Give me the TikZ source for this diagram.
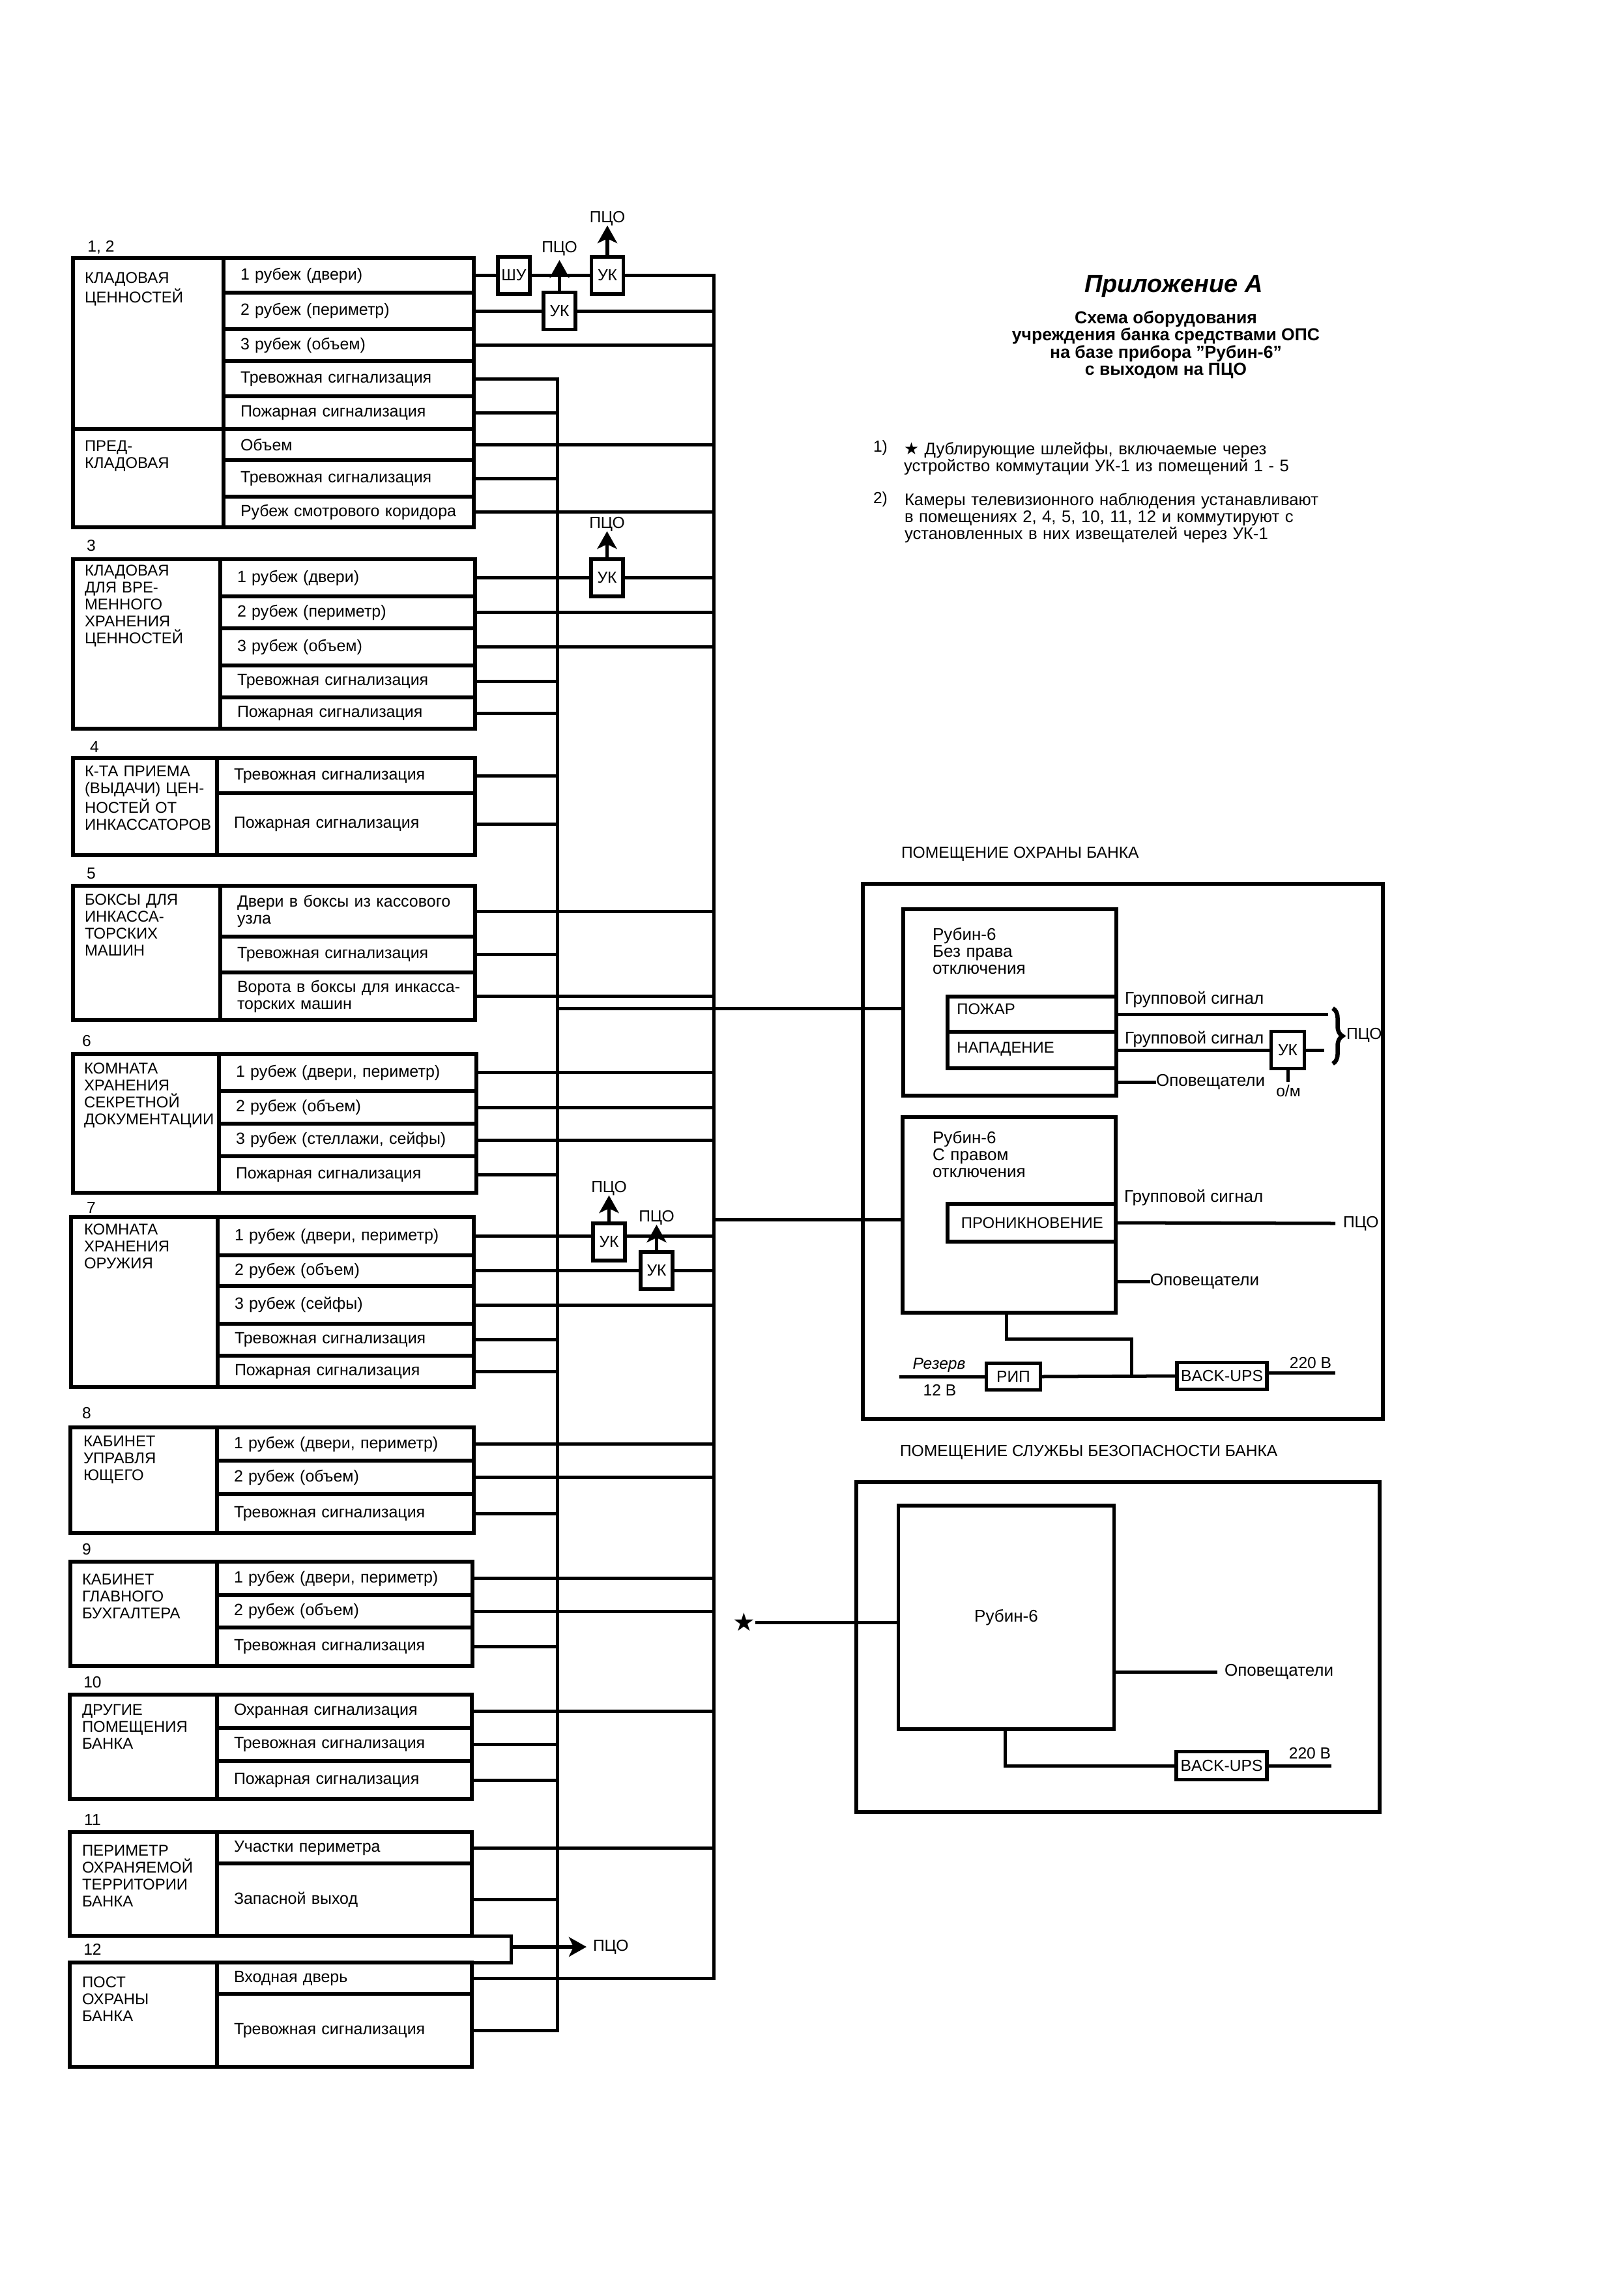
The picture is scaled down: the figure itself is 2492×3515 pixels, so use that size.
\documentclass[tikz,border=0pt]{standalone}
\usepackage{fontspec}
\setmainfont{Liberation Sans}
\newfontfamily\symfont{DejaVu Sans}
\usetikzlibrary{arrows.meta,decorations.pathreplacing}

\newcommand{\plainfont}{\fontsize{7}{7.4}\selectfont}
\newcommand{\rowfont}{\fontsize{7.1}{7.4}\selectfont}
\newcommand{\namefont}{\fontsize{6.8}{7.4}\selectfont}
\newcommand{\sidefont}{\fontsize{7.4}{7.4}\selectfont}

\tikzset{
    every node/.style={font=\plainfont},
    boxline/.style={draw,line width=.055cm,inner sep=0pt,outer sep=0pt},
    rowbox/.style n args={4}{boxline,inner xsep=.26cm,align=left,font=\rowfont,
        minimum width={(#2-#1)*0.01cm},minimum height={(#4-#3)*0.01cm},
        text width={(#2-#1-52)*0.01cm}},
    ukbox/.style={boxline,minimum width=.49cm,minimum height=.57cm},
    lbl/.style={inner sep=0pt,outer sep=0pt},
    lblw/.style={lbl,anchor=west},
    sidelbl/.style={lblw,font=\sidefont},
    roomtext/.style={lbl,anchor=north west,align=left,text width=2.3cm,font=\namefont},
    wire/.style={line width=.05cm},
    pcoarrow/.style={line width=.055cm,-{Stealth[length=.27cm,width=.3cm,inset=.07cm]}}
}

\begin{document}
\begin{tikzpicture}[x=0.01cm,y=-0.01cm]
    \useasboundingbox (0,0) rectangle (2492,3515);

    % Rooms: left cells and rows
    \foreach \nm/\xa/\xb/\ya/\yb/\txt in {
        c1/112/343/396/658/{}, c1p/112/343/658/809/{},
        r1a/343/727/396/449/{1 рубеж (двери)},
        r1b/343/727/449/505/{2 рубеж (периметр)},
        r1c/343/727/505/554/{3 рубеж (объем)},
        r1d/343/727/554/608/{Тревожная сигнализация},
        r1e/343/727/608/658/{Пожарная сигнализация},
        r1pa/343/727/658/706/{Объем},
        r1pb/343/727/706/762/{Тревожная сигнализация},
        r1pc/343/727/762/809/{Рубеж смотрового коридора},
        c3/112/338/858/1118/{},
        r3a/338/729/858/915/{1 рубеж (двери)},
        r3b/338/729/915/964/{2 рубеж (периметр)},
        r3c/338/729/964/1021/{3 рубеж (объем)},
        r3d/338/729/1021/1070/{Тревожная сигнализация},
        r3e/338/729/1070/1118/{Пожарная сигнализация},
        c4/112/333/1163/1312/{},
        r4a/333/729/1163/1217/{Тревожная сигнализация},
        r4b/333/729/1217/1312/{Пожарная сигнализация},
        c5/112/338/1359/1565/{},
        r5a/338/729/1359/1437/{Двери в боксы из кассового\\узла},
        r5b/338/729/1437/1492/{Тревожная сигнализация},
        r5c/338/729/1492/1565/{\mbox{Ворота в боксы для инкасса-}\\торских машин},
        c6/112/336/1617/1830/{},
        r6a/336/731/1617/1674/{1 рубеж (двери, периметр)},
        r6b/336/731/1674/1724/{2 рубеж (объем)},
        r6c/336/731/1724/1774/{3 рубеж (стеллажи, сейфы)},
        r6d/336/731/1774/1830/{Пожарная сигнализация},
        c7/109/334/1867/2128/{},
        r7a/334/727/1867/1926/{1 рубеж (двери, периметр)},
        r7b/334/727/1926/1973/{2 рубеж (объем)},
        r7c/334/727/1973/2031/{3 рубеж (сейфы)},
        r7d/334/727/2031/2080/{Тревожная сигнализация},
        r7e/334/727/2080/2128/{Пожарная сигнализация},
        c8/108/333/2190/2352/{},
        r8a/333/727/2190/2241/{1 рубеж (двери, периметр)},
        r8b/333/727/2241/2292/{2 рубеж (объем)},
        r8c/333/727/2292/2352/{Тревожная сигнализация},
        c9/108/333/2396/2556/{},
        r9a/333/725/2396/2447/{1 рубеж (двери, периметр)},
        r9b/333/725/2447/2497/{2 рубеж (объем)},
        r9c/333/725/2497/2556/{Тревожная сигнализация},
        c10/107/333/2600/2760/{},
        r10a/333/724/2600/2651/{Охранная сигнализация},
        r10b/333/724/2651/2702/{Тревожная сигнализация},
        r10c/333/724/2702/2760/{Пожарная сигнализация},
        c11/107/333/2811/2970/{},
        r11a/333/724/2811/2859/{Участки периметра},
        r11b/333/724/2859/2970/{Запасной выход},
        c12/107/333/3011/3171/{},
        r12a/333/724/3011/3059/{Входная дверь},
        r12b/333/724/3059/3171/{Тревожная сигнализация}
    } {
        \node[rowbox={\xa}{\xb}{\ya}{\yb}] (\nm) at ({(\xa+\xb)/2},{(\ya+\yb)/2}) {\txt};
    }

    % Room names
    \foreach \nm/\xx/\yy/\txt in {
        t1/130/418/{КЛАДОВАЯ\\ЦЕННОСТЕЙ},
        t1p/130/676/{ПРЕД-\\КЛАДОВАЯ},
        t3/130/867/{КЛАДОВАЯ\\ДЛЯ ВРЕ-\\МЕННОГО\\ХРАНЕНИЯ\\ЦЕННОСТЕЙ},
        t4/130/1175/{К-ТА ПРИЕМА\\(ВЫДАЧИ) ЦЕН-\\НОСТЕЙ ОТ\\ИНКАССАТОРОВ},
        t5/130/1372/{БОКСЫ ДЛЯ\\ИНКАССА-\\ТОРСКИХ\\МАШИН},
        t6/129/1631/{КОМНАТА\\ХРАНЕНИЯ\\СЕКРЕТНОЙ\\ДОКУМЕНТАЦИИ},
        t7/129/1878/{КОМНАТА\\ХРАНЕНИЯ\\ОРУЖИЯ},
        t8/128/2203/{КАБИНЕТ\\УПРАВЛЯ\\ЮЩЕГО},
        t9/126/2415/{КАБИНЕТ\\ГЛАВНОГО\\БУХГАЛТЕРА},
        t10/126/2615/{ДРУГИЕ\\ПОМЕЩЕНИЯ\\БАНКА},
        t11/126/2831/{ПЕРИМЕТР\\ОХРАНЯЕМОЙ\\ТЕРРИТОРИИ\\БАНКА},
        t12/126/3033/{ПОСТ\\ОХРАНЫ\\БАНКА}
    } {
        \node[roomtext] (\nm) at (\xx,\yy) {\txt};
    }

    % Room numbers
    \foreach \nm/\xx/\yy/\txt in {
        n1/155/379/{1, 2}, n3/140/837/3, n4/145/1146/4, n5/140/1340/5,
        n6/133/1597/6, n7/140/1853/7, n8/133/2168/8, n9/133/2377/9,
        n10/142/2581/10, n11/142/2792/11, n12/142/2991/12
    } {
        \node[lbl] (\nm) at (\xx,\yy) {\txt};
    }

    % Switches on the loops
    \node[ukbox] (shu) at (788.5,422.5) {ШУ};
    \node[ukbox] (uka) at (932,422.5) {УК};
    \node[ukbox] (ukb) at (858.5,477) {УК};
    \node[ukbox] (ukc) at (931.5,886.5) {УК};
    \node[ukbox] (ukd) at (934.5,1905.5) {УК};
    \node[ukbox] (uke) at (1007.5,1949.5) {УК};

    \node[lbl] (pa) at (932,335) {ПЦО};
    \node[lbl] (pb) at (858.5,381) {ПЦО};
    \node[lbl] (pc) at (931.5,804) {ПЦО};
    \node[lbl] (pd) at (934.5,1823) {ПЦО};
    \node[lbl] (pe) at (1007.5,1868) {ПЦО};
    \node[lblw] (pf) at (910,2987) {ПЦО};

    % Two buses
    \coordinate (bustop) at (855,582);
    \coordinate (busbot) at (855,3115);
    \coordinate (mainstop) at (1095,422.5);
    \coordinate (mainsbot) at (1095,3035);

    \draw[wire] (r1d.east) -| (busbot) -- (r12b.east);
    \draw[wire] (uka.east) -| (mainsbot) -- (r12a.east);

    \foreach \r in {r1e,r1pb,r3d,r3e,r4a,r4b,r5b,r6d,r7d,r7e,r8c,r9c,r10b,r10c,r11b} {
        \draw[wire] (\r.east) -- (\r.east -| bustop);
    }
    \foreach \r in {r1c,r1pa,r1pc,r3b,r3c,r5a,r5c,r6a,r6b,r6c,r7c,r8a,r8b,r9a,r9b,r10a,r11a} {
        \draw[wire] (\r.east) -- (\r.east -| mainstop);
    }

    % Loops through the switches
    \draw[wire] (r1a.east) -- (shu.west);
    \draw[wire] (shu.east) -- (uka.west);
    \draw[wire] (r1b.east) -- (ukb.west);
    \draw[wire] (ukb.east) -- (ukb.east -| mainstop);
    \draw[wire] (r3a.east) -- (ukc.west);
    \draw[wire] (ukc.east) -- (ukc.east -| mainstop);
    \draw[wire] (r7a.east) -- (r7a.east -| ukd.west);
    \draw[wire] (r7a.east -| ukd.east) -- (r7a.east -| mainstop);
    \draw[wire] (r7b.east) -- (uke.west);
    \draw[wire] (uke.east) -- (uke.east -| mainstop);

    % Arrows to the monitoring station
    \draw[pcoarrow] (uka.north) -- (pa.south);
    \draw[pcoarrow,shorten >=.07cm] (ukb.north) -- (pb.south);
    \draw[pcoarrow] (ukc.north) -- (pc.south);
    \draw[pcoarrow] (ukd.north) -- (pd.south);
    \draw[pcoarrow] (uke.north) -- (pe.south);

    \coordinate (loopr) at (784,2987);
    \draw[wire] (r11b.south east) -| (loopr) |- (r12a.north east);
    \draw[pcoarrow,shorten >=.1cm] (loopr) -- (pf.west);

    % Guard room
    \node[lblw] (guardtitle) at (1383,1310) {ПОМЕЩЕНИЕ ОХРАНЫ БАНКА};
    \foreach \nm/\xa/\xb/\ya/\yb in {
        guard/1324/2122/1356/2177, rubina/1386/1713/1395/1681, rubinb/1385/1712/1714/2014
    } {
        \node[rowbox={\xa}{\xb}{\ya}{\yb}] (\nm) at ({(\xa+\xb)/2},{(\ya+\yb)/2}) {};
    }
    \node[rowbox={1454}{1713}{1529}{1583},font=\namefont,inner xsep=.14cm,text width=2.3cm,text depth=.16cm] (pozhar) at (1583.5,1556) {ПОЖАР};
    \node[rowbox={1454}{1713}{1583}{1639},font=\namefont,inner xsep=.14cm,text width=2.3cm,text depth=.08cm] (napad) at (1583.5,1611) {НАПАДЕНИЕ};
    \node[rowbox={1454}{1712}{1847}{1905},font=\namefont,inner xsep=.21cm,text width=2.16cm] (pronik) at (1583,1876) {ПРОНИКНОВЕНИЕ};

    \node[roomtext,font=\sidefont] (rubinatext) at (1431,1423) {Рубин-6\\Без права\\отключения};
    \node[roomtext,font=\sidefont] (rubinbtext) at (1431,1735) {Рубин-6\\С правом\\отключения};

    \node[sidelbl] (groupa) at (1726,1534) {Групповой сигнал};
    \node[sidelbl] (groupb) at (1726,1595) {Групповой сигнал};
    \node[sidelbl] (groupc) at (1725,1838) {Групповой сигнал};
    \node[sidelbl] (alerta) at (1774,1660) {Оповещатели};
    \node[sidelbl] (alertb) at (1765,1966) {Оповещатели};
    \node[ukbox,minimum width=.51cm] (ukf) at (1976,1611) {УК};
    \node[lbl] (om) at (1977,1674) {о/м};
    \node[lblw] (pg) at (2066,1588) {ПЦО};
    \node[lblw] (ph) at (2061,1877) {ПЦО};
    \coordinate (groupaend) at (2038,1556);
    \coordinate (ukfend) at (2032,1611);
    \coordinate (bracetop) at (2045,1547);
    \coordinate (bracebot) at (2045,1632);

    \draw[wire] (pozhar.east) -- (groupaend);
    \draw[wire] (napad.east) -- (ukf.west);
    \draw[wire] (ukf.east) -- (ukfend);
    \draw[wire] (ukf.south) -- (ukf.south |- alerta.west);
    \draw[wire] (alerta.west -| rubina.east) -- (alerta.west);
    \draw[wire] (pronik.east) -- ([xshift=-.12cm]ph.west);
    \draw[wire] (alertb.west -| rubinb.east) -- (alertb.west);
    \draw[line width=.065cm,decorate,decoration={brace,amplitude=.15cm}] (bracetop) -- (bracebot);

    % Power supply of the guard room
    \node[boxline,minimum width=.83cm,minimum height=.41cm] (rip) at (1555,2112) {РИП};
    \node[boxline,minimum width=1.38cm,minimum height=.41cm] (ups) at (1875,2111) {BACK-UPS};
    \node[lbl,font=\plainfont\itshape] (rezerv) at (1441,2095) {Резерв};
    \node[lbl] (dc) at (1442,2133) {12 В};
    \node[lbl] (aca) at (2011,2091) {220 В};
    \coordinate (resstart) at (1380,2112);
    \coordinate (upsenda) at (2049,2106);
    \coordinate (feedb) at (1544,2054);
    \coordinate (feedc) at (1736,2054);

    \draw[wire] (resstart) -- (rip.west);
    \draw[wire] (rip.east) -- (ups.west);
    \draw[wire] (ups.east |- upsenda) -- (upsenda);
    \draw[wire] (rubinb.south -| feedb) -- (feedb) -- (feedc) -- (feedc |- rip.east);

    % Links from the buses to the guard room
    \coordinate (linka) at (855,1547);
    \coordinate (linkb) at (1095,1871);
    \draw[wire] (linka) -- (linka -| rubina.west);
    \draw[wire] (linkb) -- (linkb -| rubinb.west);

    % Security service room
    \node[lblw] (sectitle) at (1381,2228) {ПОМЕЩЕНИЕ СЛУЖБЫ БЕЗОПАСНОСТИ БАНКА};
    \node[rowbox={1314}{2117}{2274}{2780}] (secroom) at (1715.5,2527) {};
    \node[boxline,minimum width=3.31cm,minimum height=3.43cm,font=\sidefont] (rubinc) at (1544,2481.5) {Рубин-6};
    \node[lbl,font=\symfont\fontsize{11}{11}\selectfont] (star) at (1142,2489) {★};
    \node[sidelbl] (alertc) at (1879,2565) {Оповещатели};
    \node[boxline,minimum width=1.39cm,minimum height=.43cm] (upsb) at (1874.5,2709) {BACK-UPS};
    \node[lbl] (acb) at (2010,2690) {220 В};
    \coordinate (upsendb) at (2043,2709);
    \coordinate (feedd) at (1542,2709);

    \draw[wire] (star.east) -- (star.east -| rubinc.west);
    \draw[wire] (alertc.west -| rubinc.east) -- ([xshift=-.11cm]alertc.west);
    \draw[wire] (rubinc.south -| feedd) -- (feedd) -- (upsb.west);
    \draw[wire] (upsb.east) -- (upsendb);

    % Heading and notes
    \node[lbl,font=\fontsize{10.8}{12}\selectfont\bfseries\itshape] (heading) at (1801,439) {Приложение А};
    \node[lbl,anchor=north,align=center,font=\fontsize{7.55}{7.5}\selectfont\bfseries] (subheading) at (1789,477)
        {Схема оборудования\\учреждения банка средствами ОПС\\на базе прибора "Рубин-6"\\с выходом на ПЦО};
    \node[lblw] (noteonenum) at (1340,687) {1)};
    \node[roomtext,text width=8cm,font=\fontsize{7.3}{7.4}\selectfont] (noteone) at (1387,678) {{\symfont ★} Дублирующие шлейфы, включаемые через\\устройство коммутации УК-1 из помещений 1 - 5};
    \node[lblw] (notetwonum) at (1340,766) {2)};
    \node[roomtext,text width=8cm,font=\fontsize{7.3}{7.4}\selectfont] (notetwo) at (1388,757) {Камеры телевизионного наблюдения устанавливают\\в помещениях 2, 4, 5, 10, 11, 12 и коммутируют с\\установленных в них извещателей через УК-1};
\end{tikzpicture}
\end{document}
